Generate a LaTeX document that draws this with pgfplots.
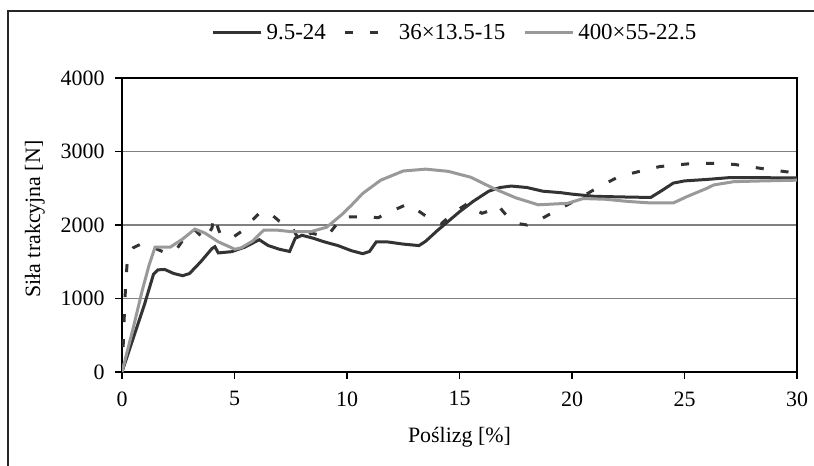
\documentclass[border=0pt]{standalone}
\usepackage{fontspec}
\setmainfont{Liberation Serif}
\usepackage{pgfplots}
\pgfplotsset{compat=1.18}
\definecolor{ser1}{HTML}{333333}
\definecolor{ser3}{HTML}{999999}
\definecolor{gridc}{HTML}{808080}

\begin{document}
\begin{tikzpicture}
\useasboundingbox (0bp,0bp) rectangle (814bp,-466bp);
\draw[line width=1.5bp, black!85] (8bp,-466bp) -- (8bp,-11bp) -- (814bp,-11bp);
\begin{axis}[
    at={(122bp,-372bp)}, anchor=south west,
    width=675bp, height=294bp, scale only axis,
    xmin=0, xmax=30, ymin=0, ymax=4000,
    xtick={0,5,...,30}, ytick={0,1000,...,4000},
    minor tick num=0,
    tick align=outside, major tick length=7bp,
    tick style={black, line width=1.2bp},
    xtick pos=bottom, ytick pos=left,
    axis line style={black, line width=1.5bp},
    ymajorgrids=true,
    grid style={gridc, line width=1.3bp},
    /pgf/number format/assume math mode=true,
    /pgf/number format/1000 sep={},
    ticklabel style={font=\fontsize{22}{26}\selectfont},
    xticklabel shift=9bp, yticklabel shift=7bp,
    every axis x label/.style={at={(axis description cs:0.5,-0.221)}, anchor=center,
        font=\fontsize{22}{26}\selectfont},
    every axis y label/.style={at={(axis description cs:-0.129,0.52)}, rotate=90, anchor=center,
        font=\fontsize{22}{26}\selectfont},
    xlabel={Poślizg [\%]},
    ylabel={Siła trakcyjna [N]},
    legend columns=3,
    legend image code/.code={\draw[#1] (0bp,0bp) -- (48bp,0bp);},
    legend style={draw=none, fill=none, font=\fontsize{23}{27}\selectfont,
        at={(0.4933,1.154)}, anchor=center,
        /tikz/every odd column/.append style={column sep=2bp},
        /tikz/every even column/.append style={column sep=16bp}},
]
\addplot[ser1, line width=3bp] coordinates {
(0,0) (0.5,460) (1.0,920) (1.4,1330) (1.6,1390) (1.9,1395) (2.3,1340)
(2.7,1310) (3.0,1340) (3.5,1500) (4.0,1680) (4.13,1705) (4.28,1620)
(4.87,1637) (5.47,1700) (6.1,1800) (6.5,1720) (7.0,1670) (7.45,1640)
(7.7,1820) (8.0,1860) (8.5,1820) (9.0,1770) (9.6,1720) (10.2,1650)
(10.7,1610) (11.0,1640) (11.3,1770) (11.8,1770) (12.5,1740) (13.2,1720)
(13.5,1780) (14.0,1920) (14.5,2050) (15.0,2180) (15.6,2320) (16.3,2460)
(16.8,2510) (17.3,2530) (18.0,2510) (18.7,2460) (19.5,2440) (20.0,2420)
(21.0,2390) (22.5,2380) (23.5,2375) (24.0,2470) (24.5,2570) (25.0,2600)
(26.0,2620) (27.0,2645) (28.0,2645) (30.0,2640)
};
\addplot[ser1, line width=3bp, dash pattern=on 8bp off 17bp] coordinates {
(0,0) (0.06,410) (0.1,750) (0.15,1110) (0.22,1450) (0.36,1637) (0.5,1690)
(0.93,1755) (1.3,1705) (1.98,1615) (2.43,1673) (2.87,1864) (3.24,1932)
(3.69,1796) (4.0,1960) (4.09,2120) (4.3,1930) (4.4,1860) (4.87,1820)
(5.3,1910) (6.1,2160) (6.5,2180) (7.0,2050) (7.5,2000) (7.9,1780)
(8.4,1890) (9.1,1840) (9.8,2110) (10.9,2110) (11.4,2100) (11.6,2136)
(12.7,2286) (12.9,2250) (13.7,2080) (14.2,2020) (14.8,2180) (15.4,2300)
(15.6,2220) (16.0,2160) (16.4,2200) (16.7,2270) (17.2,2090) (17.6,2020)
(18.0,2000) (18.5,2060) (19.2,2180) (20.2,2340) (21.2,2520) (22.1,2660)
(23.0,2730) (23.9,2795) (25.1,2830) (26.1,2840) (27.2,2825) (28.4,2770)
(29.5,2725) (30.0,2710)
};
\addplot[ser3, line width=3bp] coordinates {
(0,0) (0.5,600) (0.9,1110) (1.2,1450) (1.47,1700) (2.15,1700) (2.7,1810)
(3.24,1945) (3.69,1890) (4.27,1773) (5.02,1670) (5.3,1690) (5.8,1780)
(6.3,1930) (6.9,1930) (7.5,1910) (8.4,1910) (9.1,1970) (9.8,2150)
(10.2,2270) (10.7,2430) (11.5,2610) (12.5,2735) (13.5,2760) (14.5,2730)
(15.5,2650) (16.5,2500) (17.5,2370) (18.5,2275) (19.8,2295) (20.5,2360)
(21.5,2350) (22.5,2320) (23.5,2300) (24.5,2300) (25.1,2385) (26.0,2500)
(26.3,2545) (27.2,2590) (28.5,2600) (30.0,2610)
};
\legend{9.5-24, 36×13.5-15, 400×55-22.5}
\end{axis}
\end{tikzpicture}
\end{document}
